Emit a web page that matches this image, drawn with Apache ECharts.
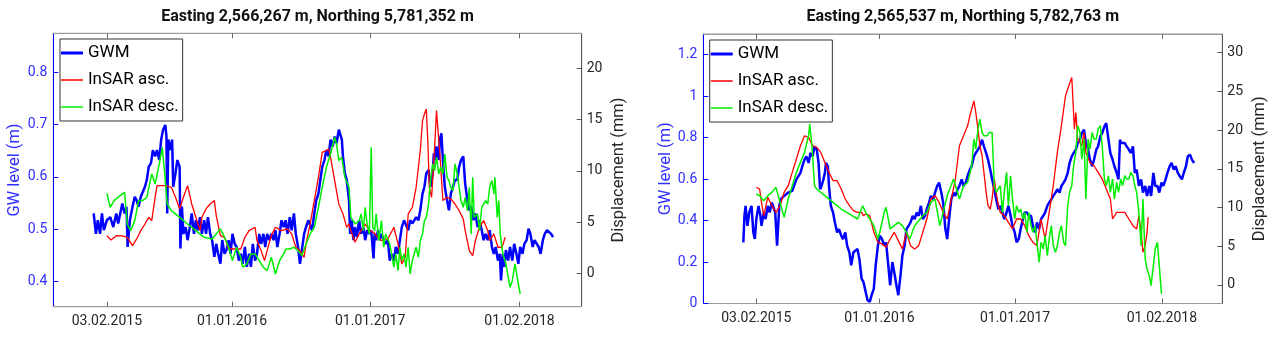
<!DOCTYPE html>
<html><head><meta charset="utf-8">
<script src="https://cdn.jsdelivr.net/npm/echarts@6/dist/echarts.min.js"></script>
<style>html,body{margin:0;padding:0;background:#fff}#c{width:1277px;height:339px}</style>
</head><body><div id="c"></div><script>
const titles = ['Easting 2,566,267 m, Northing 5,781,352 m', 'Easting 2,565,537 m, Northing 5,782,763 m'];
const seriesNames = ['GWM', 'InSAR asc.', 'InSAR desc.'];
const xTickDates = ['2015-02-03', '2016-01-01', '2017-01-01', '2018-02-01'];
const gwTicksA = [0.4, 0.5, 0.6, 0.7, 0.8];
const dispTicksA = [0, 5, 10, 15, 20];
const gwTicksB = [0, 0.2, 0.4, 0.6, 0.8, 1, 1.2];
const dispTicksB = [0, 5, 10, 15, 20, 25, 30];
const yNames = ['GW level (m)', 'Displacement (mm)'];

// data points: [days since 01.01.2015, value]
const gwmA = [[-2,0.530],[4,0.491],[9,0.517],[15,0.491],[20,0.530],[25,0.498],[33,0.517],[42,0.523],[50,0.504],[58,0.530],[63,0.511],[74,0.549],[80,0.530],[85,0.543],[88,0.466],[94,0.517],[101,0.543],[107,0.562],[112,0.555],[117,0.543],[123,0.562],[128,0.562],[134,0.581],[139,0.594],[144,0.619],[150,0.626],[155,0.651],[161,0.639],[166,0.651],[172,0.632],[177,0.671],[182,0.690],[188,0.699],[191,0.677],[193,0.530],[196,0.671],[202,0.651],[206,0.671],[209,0.581],[215,0.607],[220,0.632],[226,0.619],[228,0.463],[232,0.543],[236,0.491],[242,0.504],[247,0.479],[253,0.504],[258,0.530],[264,0.491],[269,0.517],[274,0.498],[280,0.523],[285,0.491],[291,0.517],[296,0.491],[301,0.523],[307,0.491],[312,0.479],[318,0.447],[323,0.472],[328,0.453],[334,0.434],[339,0.479],[345,0.453],[350,0.460],[356,0.479],[361,0.453],[366,0.491],[372,0.472],[377,0.466],[383,0.440],[388,0.453],[393,0.434],[399,0.466],[404,0.428],[410,0.453],[415,0.428],[420,0.472],[426,0.440],[431,0.453],[437,0.491],[442,0.472],[448,0.491],[453,0.466],[458,0.491],[464,0.479],[469,0.491],[475,0.479],[480,0.498],[485,0.466],[491,0.491],[496,0.517],[502,0.504],[507,0.517],[512,0.491],[518,0.523],[523,0.498],[529,0.530],[534,0.491],[540,0.466],[545,0.434],[550,0.460],[556,0.491],[561,0.504],[567,0.517],[572,0.517],[577,0.498],[583,0.530],[588,0.555],[594,0.568],[599,0.594],[604,0.619],[610,0.632],[615,0.651],[621,0.639],[626,0.671],[632,0.658],[637,0.677],[642,0.664],[648,0.690],[653,0.693],[656,0.671],[659,0.639],[664,0.607],[669,0.594],[675,0.555],[678,0.491],[682,0.517],[687,0.479],[691,0.504],[696,0.485],[702,0.517],[707,0.491],[713,0.504],[718,0.479],[723,0.498],[729,0.491],[734,0.498],[740,0.444],[743,0.491],[747,0.479],[752,0.498],[756,0.479],[761,0.491],[767,0.479],[772,0.472],[778,0.479],[783,0.440],[788,0.453],[794,0.440],[799,0.466],[805,0.453],[810,0.479],[815,0.504],[821,0.517],[826,0.517],[832,0.498],[837,0.517],[843,0.511],[848,0.517],[853,0.523],[859,0.517],[864,0.536],[870,0.568],[875,0.581],[880,0.607],[886,0.613],[891,0.581],[897,0.607],[900,0.645],[904,0.632],[907,0.658],[913,0.632],[916,0.671],[920,0.683],[924,0.632],[929,0.581],[935,0.555],[940,0.536],[945,0.568],[951,0.581],[956,0.594],[962,0.594],[967,0.619],[972,0.632],[978,0.639],[983,0.587],[989,0.555],[994,0.536],[999,0.543],[1005,0.517],[1010,0.530],[1016,0.504],[1021,0.517],[1027,0.498],[1032,0.479],[1037,0.491],[1043,0.479],[1048,0.498],[1054,0.466],[1059,0.453],[1064,0.466],[1070,0.440],[1075,0.453],[1078,0.402],[1083,0.453],[1087,0.428],[1091,0.460],[1097,0.440],[1102,0.466],[1108,0.440],[1113,0.472],[1119,0.453],[1124,0.434],[1129,0.466],[1135,0.453],[1140,0.472],[1146,0.479],[1151,0.501],[1156,0.491],[1162,0.466],[1167,0.479],[1173,0.472],[1178,0.466],[1183,0.453],[1189,0.479],[1194,0.491],[1200,0.498],[1205,0.501],[1211,0.491],[1216,0.485]];
const ascA = [[33,3.67],[44,3.25],[58,3.67],[74,3.64],[87,3.51],[101,2.70],[112,3.35],[123,4.16],[134,4.81],[144,5.46],[152,5.14],[161,7.41],[166,8.55],[177,8.55],[188,8.55],[204,8.39],[215,7.41],[226,6.28],[236,7.41],[247,8.55],[258,6.76],[269,5.46],[280,4.16],[285,5.46],[296,6.28],[307,6.76],[318,7.09],[323,5.63],[334,3.67],[345,3.51],[356,2.37],[366,2.37],[377,2.37],[388,2.37],[399,3.51],[410,4.16],[426,4.49],[431,3.19],[442,2.21],[451,1.24],[458,2.21],[469,3.67],[480,4.49],[496,4.16],[512,4.33],[523,3.84],[534,2.54],[545,2.21],[556,1.56],[561,2.86],[572,4.81],[583,7.09],[594,9.37],[604,11.80],[615,11.97],[621,12.13],[626,11.32],[637,9.04],[648,6.76],[659,5.79],[669,4.49],[675,4.81],[680,4.16],[691,3.02],[702,3.84],[707,4.16],[718,4.81],[729,4.16],[740,4.00],[751,3.51],[761,3.19],[778,3.35],[794,4.49],[805,2.86],[815,0.91],[824,1.56],[832,5.79],[843,6.44],[853,8.39],[864,11.97],[870,14.89],[875,15.54],[880,16.03],[884,12.94],[888,8.39],[894,7.41],[899,10.34],[903,12.94],[907,15.87],[911,13.92],[916,11.64],[924,7.09],[935,7.41],[945,7.25],[956,6.76],[967,6.11],[978,5.30],[983,4.16],[994,2.21],[1003,1.72],[1010,3.19],[1021,4.49],[1032,5.14],[1043,4.16],[1048,3.19],[1059,3.84],[1070,2.54],[1081,2.54],[1089,3.51]];
const descA = [[33,7.80],[42,6.44],[52,7.09],[68,7.58],[80,7.90],[87,4.81],[96,4.16],[107,5.14],[117,7.09],[128,7.09],[139,7.41],[152,9.69],[161,8.72],[172,10.67],[180,12.29],[188,9.04],[193,6.76],[204,6.11],[226,5.46],[247,4.81],[269,4.16],[291,3.51],[312,3.35],[323,3.84],[334,4.33],[345,3.51],[356,2.54],[366,1.24],[377,2.54],[388,1.56],[393,0.59],[404,0.91],[415,1.89],[426,1.89],[437,1.24],[448,0.59],[458,0.26],[469,1.56],[480,-0.07],[491,1.24],[502,1.89],[507,2.37],[518,2.37],[529,2.54],[540,2.21],[550,1.72],[561,2.86],[572,3.84],[583,4.49],[594,6.44],[604,8.39],[615,10.34],[626,11.64],[637,13.27],[642,12.62],[648,10.99],[656,11.32],[664,9.37],[675,8.39],[680,5.46],[691,4.81],[702,5.14],[707,5.79],[713,4.16],[718,6.44],[723,4.81],[729,3.84],[734,12.29],[738,4.49],[743,4.16],[747,5.79],[754,3.19],[761,5.14],[767,2.54],[772,3.84],[783,2.86],[794,0.59],[799,1.89],[805,0.26],[810,2.54],[815,1.24],[821,1.89],[826,0.59],[832,2.54],[837,-0.07],[843,1.24],[848,1.89],[853,2.54],[859,1.56],[864,3.19],[870,3.84],[875,5.14],[880,5.46],[886,6.76],[891,9.04],[897,10.67],[902,10.02],[907,11.32],[913,9.69],[918,10.34],[924,9.69],[929,11.64],[935,9.37],[940,9.04],[945,8.39],[951,8.07],[956,10.67],[962,9.69],[967,8.39],[972,7.09],[978,6.44],[983,7.41],[989,6.11],[994,8.39],[999,3.84],[1003,9.37],[1007,5.46],[1016,5.79],[1021,4.16],[1027,6.44],[1037,7.09],[1043,6.76],[1048,8.39],[1054,9.04],[1059,7.74],[1062,9.37],[1068,5.46],[1072,7.09],[1076,3.84],[1083,1.89],[1091,0.91],[1102,-1.37],[1108,-0.72],[1115,0.91],[1124,-1.04],[1129,-2.02]];

const gwmB = [[-2,0.295],[1,0.423],[4,0.471],[9,0.375],[14,0.439],[20,0.471],[25,0.343],[29,0.311],[33,0.407],[39,0.471],[44,0.423],[47,0.375],[53,0.439],[58,0.407],[64,0.471],[69,0.439],[75,0.487],[84,0.439],[89,0.279],[95,0.471],[99,0.503],[108,0.519],[119,0.535],[130,0.543],[141,0.599],[152,0.630],[157,0.662],[163,0.694],[168,0.710],[174,0.678],[179,0.726],[185,0.710],[190,0.758],[196,0.742],[201,0.678],[205,0.551],[209,0.567],[214,0.599],[218,0.630],[221,0.678],[226,0.662],[229,0.567],[234,0.471],[240,0.439],[245,0.391],[251,0.343],[256,0.359],[262,0.327],[267,0.311],[273,0.343],[278,0.279],[284,0.247],[289,0.184],[295,0.247],[300,0.247],[306,0.263],[311,0.215],[317,0.120],[322,0.104],[328,0.056],[333,0.016],[339,0.008],[344,0.040],[350,0.072],[355,0.184],[361,0.279],[366,0.327],[372,0.311],[378,0.279],[383,0.295],[389,0.184],[394,0.088],[400,0.200],[405,0.152],[411,0.088],[416,0.040],[422,0.136],[427,0.231],[433,0.279],[438,0.359],[444,0.375],[449,0.391],[455,0.423],[460,0.407],[466,0.439],[471,0.423],[477,0.471],[482,0.407],[488,0.423],[493,0.455],[499,0.487],[504,0.519],[510,0.503],[515,0.535],[521,0.567],[526,0.583],[532,0.535],[537,0.487],[543,0.359],[548,0.311],[554,0.423],[559,0.503],[565,0.535],[570,0.519],[576,0.551],[581,0.567],[587,0.599],[592,0.567],[598,0.583],[603,0.615],[609,0.646],[614,0.662],[620,0.710],[625,0.726],[631,0.742],[636,0.758],[642,0.790],[647,0.758],[653,0.726],[658,0.694],[664,0.646],[669,0.599],[675,0.551],[680,0.503],[686,0.455],[691,0.471],[697,0.439],[702,0.407],[708,0.439],[713,0.471],[719,0.423],[724,0.375],[730,0.343],[735,0.295],[741,0.311],[746,0.359],[752,0.407],[757,0.439],[763,0.439],[768,0.423],[774,0.423],[779,0.375],[785,0.343],[790,0.391],[796,0.359],[801,0.407],[807,0.423],[812,0.439],[818,0.471],[823,0.487],[829,0.503],[834,0.519],[840,0.535],[845,0.551],[851,0.535],[856,0.567],[862,0.583],[867,0.599],[873,0.630],[878,0.678],[884,0.710],[889,0.726],[895,0.742],[900,0.774],[906,0.790],[911,0.822],[917,0.838],[922,0.774],[928,0.742],[933,0.694],[939,0.662],[944,0.694],[950,0.742],[955,0.758],[961,0.806],[966,0.822],[972,0.854],[977,0.870],[983,0.790],[988,0.726],[994,0.694],[999,0.662],[1005,0.630],[1010,0.599],[1014,0.790],[1017,0.774],[1021,0.774],[1027,0.774],[1032,0.758],[1038,0.742],[1043,0.726],[1049,0.758],[1054,0.630],[1059,0.646],[1065,0.567],[1071,0.599],[1076,0.535],[1082,0.567],[1087,0.519],[1093,0.567],[1098,0.519],[1104,0.630],[1109,0.567],[1115,0.567],[1120,0.535],[1126,0.583],[1131,0.567],[1137,0.599],[1142,0.630],[1148,0.662],[1153,0.678],[1159,0.646],[1164,0.662],[1170,0.630],[1175,0.615],[1181,0.599],[1186,0.630],[1192,0.662],[1197,0.710],[1203,0.718],[1208,0.694],[1214,0.678]];
const ascB = [[33,12.60],[42,12.38],[47,10.66],[53,8.94],[64,11.31],[75,10.23],[86,9.37],[97,10.23],[108,11.95],[119,12.81],[130,14.53],[141,16.25],[152,17.97],[163,19.26],[174,19.05],[185,17.97],[196,17.76],[207,17.11],[218,15.82],[229,14.53],[240,13.46],[251,13.46],[262,12.38],[273,11.09],[284,10.23],[295,9.59],[306,9.37],[317,9.37],[322,8.94],[328,9.16],[339,8.94],[350,6.79],[361,5.50],[372,5.29],[383,4.86],[394,5.93],[405,6.79],[416,5.72],[427,4.64],[438,6.79],[449,5.07],[460,4.64],[471,5.07],[482,6.79],[493,8.51],[504,11.09],[515,11.52],[526,10.66],[537,9.37],[548,8.51],[559,11.09],[570,13.67],[581,17.97],[592,19.26],[603,20.55],[609,21.84],[614,22.70],[620,23.77],[625,22.27],[631,20.12],[636,17.97],[642,16.68],[647,14.53],[653,11.95],[658,10.23],[664,9.80],[669,11.09],[675,13.67],[680,11.95],[686,10.23],[691,9.37],[702,8.94],[713,8.08],[724,7.22],[735,8.51],[746,8.51],[757,7.65],[768,6.36],[779,5.50],[790,5.07],[801,8.51],[812,5.93],[823,9.37],[834,12.81],[845,17.11],[856,20.55],[867,24.42],[876,25.71],[884,26.78],[887,23.99],[891,20.12],[895,22.27],[900,18.83],[911,17.97],[917,19.69],[922,17.11],[933,15.82],[944,15.39],[955,14.53],[966,13.67],[977,12.38],[988,11.09],[994,8.51],[1005,9.37],[1016,9.37],[1027,9.37],[1038,8.51],[1049,7.65],[1059,7.22],[1065,8.94],[1071,6.79],[1076,4.21],[1082,5.07],[1087,6.79],[1090,8.73]];
const descB = [[33,11.74],[42,11.52],[53,10.88],[64,11.52],[75,11.95],[86,12.60],[97,10.66],[108,8.73],[119,11.09],[130,12.81],[141,14.53],[152,15.82],[163,17.11],[174,19.26],[177,20.77],[183,17.97],[190,12.81],[196,12.38],[218,11.52],[240,10.66],[262,9.80],[284,9.16],[306,8.51],[320,10.23],[328,9.37],[339,8.51],[350,7.65],[361,5.93],[366,6.79],[378,9.37],[383,10.02],[394,7.22],[405,7.65],[416,8.08],[427,7.65],[438,6.79],[447,5.93],[460,7.65],[482,8.94],[493,9.37],[504,10.66],[515,11.09],[528,7.65],[537,9.37],[548,11.52],[565,13.67],[581,11.09],[592,12.81],[603,13.24],[614,15.39],[620,18.83],[625,17.54],[631,20.12],[636,21.41],[642,19.69],[647,19.26],[656,19.26],[661,19.69],[669,19.69],[675,12.81],[680,11.95],[691,12.81],[697,9.37],[702,11.95],[708,14.53],[713,10.23],[719,14.10],[724,11.09],[730,8.51],[735,10.23],[741,9.37],[746,9.80],[752,8.51],[757,9.37],[763,6.79],[768,9.37],[774,7.65],[779,6.79],[785,7.65],[796,2.92],[801,5.50],[807,4.64],[812,6.36],[818,3.78],[823,5.93],[829,7.65],[834,5.07],[840,4.21],[845,5.07],[851,6.79],[856,7.65],[862,5.50],[867,5.07],[873,10.23],[878,11.95],[884,12.81],[889,15.39],[895,17.11],[900,20.55],[906,19.69],[911,16.25],[917,18.83],[922,11.09],[928,18.83],[933,17.54],[939,19.69],[944,18.83],[950,18.83],[955,20.12],[961,20.55],[966,17.97],[972,13.67],[977,12.81],[983,14.10],[988,11.95],[994,13.67],[999,11.09],[1005,13.24],[1010,11.95],[1016,13.67],[1021,12.81],[1027,14.10],[1032,13.67],[1038,13.67],[1043,14.53],[1049,14.10],[1054,12.81],[1059,11.95],[1065,9.37],[1071,5.07],[1076,11.09],[1082,3.35],[1087,2.06],[1093,1.20],[1098,-0.09],[1104,2.49],[1109,4.64],[1115,5.50],[1120,2.49],[1126,-1.16]];

const DAY = 86400000, EPOCH = Date.UTC(2015, 0, 1);
const toDay = s => (Date.parse(s + 'T00:00:00Z') - EPOCH) / DAY;
const fmtDay = d => { const t = new Date(EPOCH + Math.round(d) * DAY); const p = n => String(n).padStart(2, '0'); return p(t.getUTCDate()) + '.' + p(t.getUTCMonth() + 1) + '.' + t.getUTCFullYear(); };
const xTicks = xTickDates.map(toDay);

const FONT = 'Roboto';
const BLUE = '#0000ff', BLUE_TXT = '#2f2fff', DARK = '#262626', FRAME = '#9a9a9a';

const panels = [
  { grid: { left: 53.3, top: 33.3, width: 528.4, height: 273.4 }, x: [-109, 1292], y: [0.352, 0.874], y2: [-3.26, 23.41], yt: gwTicksA, y2t: dispTicksA, gap: 30, legend: { left: 60, top: 39 }, data: [gwmA, ascA, descA] },
  { grid: { left: 703.3, top: 34, width: 519, height: 269.5 }, x: [-110, 1290], y: [0, 1.3], y2: [-2.4, 32.4], yt: gwTicksB, y2t: dispTicksB, gap: 28, legend: { left: 709.7, top: 40 }, data: [gwmB, ascB, descB] }
];

const option = { animation: false, backgroundColor: '#fff', grid: [], xAxis: [], yAxis: [], series: [], legend: [], graphic: [] };
const colors = [BLUE, '#ff0000', '#00ee00'];
const widths = [2.5, 1.3, 1.5];
// legend line glyphs (22 x 14 box, thin bar in the middle; corner dots pin the box size)
const legendIcons = [
  'path://M0,0h0.01v0.01h-0.01z M0,5.5h22v3h-22z M21.99,14h0.01v-0.01h-0.01z',
  'path://M0,0h0.01v0.01h-0.01z M0,6.3h22v1.4h-22z M21.99,14h0.01v-0.01h-0.01z',
  'path://M0,0h0.01v0.01h-0.01z M0,6.2h22v1.6h-22z M21.99,14h0.01v-0.01h-0.01z'
];

panels.forEach((p, i) => {
  option.grid.push(Object.assign({ show: true, borderColor: FRAME, borderWidth: 1, backgroundColor: '#fff', containLabel: false }, p.grid));
  const xb = { type: 'value', gridIndex: i, min: p.x[0], max: p.x[1], splitLine: { show: false },
    axisLine: { show: true, onZero: false, lineStyle: { color: FRAME } },
    axisTick: { show: true, inside: true, length: 5, customValues: xTicks, lineStyle: { color: '#666' } },
    axisLabel: { show: true, customValues: xTicks, formatter: v => fmtDay(v), margin: 8, color: DARK, fontFamily: FONT, fontSize: 14 } };
  option.xAxis.push(Object.assign({ position: 'bottom' }, xb));
  option.xAxis.push(Object.assign({}, xb, { position: 'top', axisLabel: { show: false } }));
  option.yAxis.push({ type: 'value', gridIndex: i, position: 'left', min: p.y[0], max: p.y[1], splitLine: { show: false },
    axisLine: { show: true, onZero: false, lineStyle: { color: BLUE } },
    axisTick: { show: true, inside: true, length: 5, customValues: p.yt, lineStyle: { color: BLUE } },
    axisLabel: { customValues: p.yt, margin: 6, color: BLUE_TXT, fontFamily: FONT, fontSize: 14 },
    name: yNames[0], nameLocation: 'middle', nameRotate: 90, nameGap: p.gap, nameTextStyle: { color: BLUE_TXT, fontFamily: FONT, fontSize: 16.5 } });
  option.yAxis.push({ type: 'value', gridIndex: i, position: 'right', min: p.y2[0], max: p.y2[1], splitLine: { show: false },
    axisLine: { show: true, onZero: false, lineStyle: { color: '#555' } },
    axisTick: { show: true, inside: true, length: 5, customValues: p.y2t, lineStyle: { color: '#555' } },
    axisLabel: { customValues: p.y2t, margin: 5, color: DARK, fontFamily: FONT, fontSize: 14 },
    name: yNames[1], nameLocation: 'middle', nameRotate: 90, nameGap: 29, nameTextStyle: { color: DARK, fontFamily: FONT, fontSize: 16.5 } });
  p.data.forEach((d, k) => {
    option.series.push({ name: seriesNames[k], type: 'line', xAxisIndex: i * 2, yAxisIndex: i * 2 + (k === 0 ? 0 : 1), data: d,
      symbol: 'none', showSymbol: false, lineStyle: { color: colors[k], width: widths[k] }, itemStyle: { color: colors[k] }, z: 2 + k, silent: true });
  });
  option.legend.push({ left: p.legend.left, top: p.legend.top, orient: 'vertical', selectedMode: false,
    data: seriesNames.map((n, k) => ({ name: n, icon: legendIcons[k], itemStyle: { color: colors[k], borderWidth: 0 } })),
    itemWidth: 22, itemHeight: 14, itemGap: 7, padding: [4, 4, 4, 1], borderColor: '#333', borderWidth: 1, backgroundColor: '#fff',
    textStyle: { color: '#000', fontFamily: FONT, fontSize: 17, lineHeight: 20 }, z: 10 });
  const g = p.grid;
  option.graphic.push({ type: 'text', x: g.left + g.width / 2, y: 16.7, style: { text: titles[i], fill: '#111', font: 'bold 16px Roboto', align: 'center', verticalAlign: 'middle' } });
});

const chart = echarts.init(document.getElementById('c'), null, { renderer: 'canvas' });
chart.setOption(option);
</script></body></html>
